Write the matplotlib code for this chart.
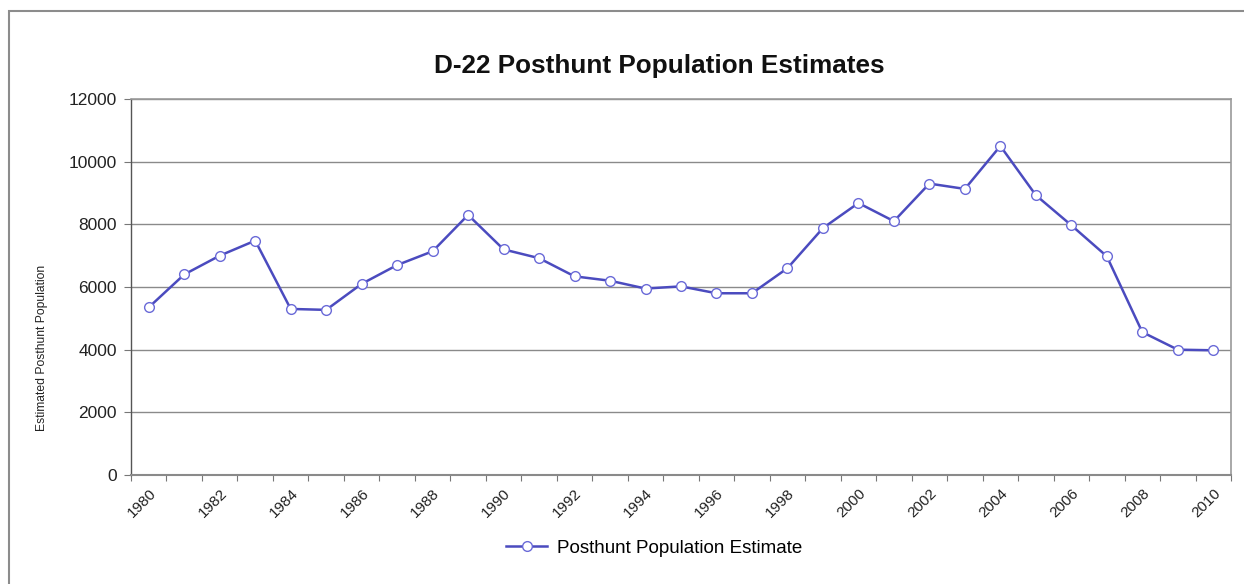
import matplotlib
matplotlib.use("Agg")
import matplotlib.pyplot as plt
from matplotlib.patches import Rectangle
from matplotlib.lines import Line2D

years = list(range(1980, 2011))
population = [5350, 6400, 7000, 7480, 5300, 5270, 6100, 6700, 7140, 8300,
              7200, 6920, 6340, 6200, 5950, 6020, 5800, 5800, 6600, 7880,
              8680, 8100, 9300, 9130, 10500, 8930, 7970, 6980, 4560, 4000,
              3980]
y_ticks = [0, 2000, 4000, 6000, 8000, 10000, 12000]
title = "D-22 Posthunt Population Estimates"
y_label = "Estimated Posthunt Population"
series_name = "Posthunt Population Estimate"

plt.rcParams["font.family"] = ["Liberation Sans", "DejaVu Sans"]

W, H = 1244, 584
fig = plt.figure(figsize=(W / 100, H / 100), dpi=100)
fig.patch.set_facecolor("white")

# chart-area frame
fig.patches.append(Rectangle((9 / W, -0.05), 1.2, (H - 11) / H + 0.05,
                             transform=fig.transFigure, fill=False,
                             edgecolor="#8c8c8c", linewidth=1.5))

ax = fig.add_axes([131 / W, 109 / H, 1100 / W, 376 / H])
n = len(years)
x = list(range(n))
line_color = "#4b4bbf"
ax.plot(x, population, color=line_color, linewidth=1.8, marker="o",
        markersize=7, markerfacecolor="white", markeredgecolor="#6a6ad8",
        markeredgewidth=1.0, zorder=3)

ax.set_xlim(-0.5, n - 0.5)
ax.set_ylim(0, 12000)
ax.set_yticks(y_ticks)
ax.set_yticklabels([str(v) for v in y_ticks], fontsize=12.5, color="#222222")
ax.yaxis.grid(True, color="#8a8a8a", linewidth=1.0)
ax.set_axisbelow(True)

# tick marks between categories, labels on every other year
ax.set_xticks([i - 0.5 for i in range(n + 1)])
ax.set_xticklabels([])
ax.set_xticks(x[::2], minor=True)
ax.set_xticklabels([str(y) for y in years[::2]], minor=True, rotation=45,
                   ha="right", rotation_mode="anchor", fontsize=11,
                   color="#222222")
ax.tick_params(axis="x", which="major", length=4, color="#777777", direction="out")
ax.tick_params(axis="x", which="minor", length=0, pad=8)
ax.tick_params(axis="y", length=5, color="#777777", pad=5)

for side in ["top", "right"]:
    ax.spines[side].set_color("#9a9a9a")
    ax.spines[side].set_linewidth(1.2)
ax.spines["left"].set_color("#555555")
ax.spines["bottom"].set_color("#8a8a8a")
ax.spines["left"].set_linewidth(1.0)
ax.spines["bottom"].set_linewidth(1.5)

fig.text(659 / W, 1 - 66 / H, title, ha="center", va="center",
         fontsize=18.8, fontweight="bold", color="#111111")
fig.text(42 / W, 1 - 348 / H, y_label, ha="center", va="center",
         rotation=90, fontsize=8.7, color="#222222")

handle = Line2D([], [], color=line_color, linewidth=1.8, marker="o",
                markersize=7, markerfacecolor="white",
                markeredgecolor="#6a6ad8", markeredgewidth=1.0)
fig.legend([handle], [series_name], loc="center", bbox_to_anchor=(654 / W, 1 - 548 / H),
           frameon=False, fontsize=13.5, handlelength=2.2, handletextpad=0.5)

fig.savefig("out.png", dpi=100, facecolor="white")
